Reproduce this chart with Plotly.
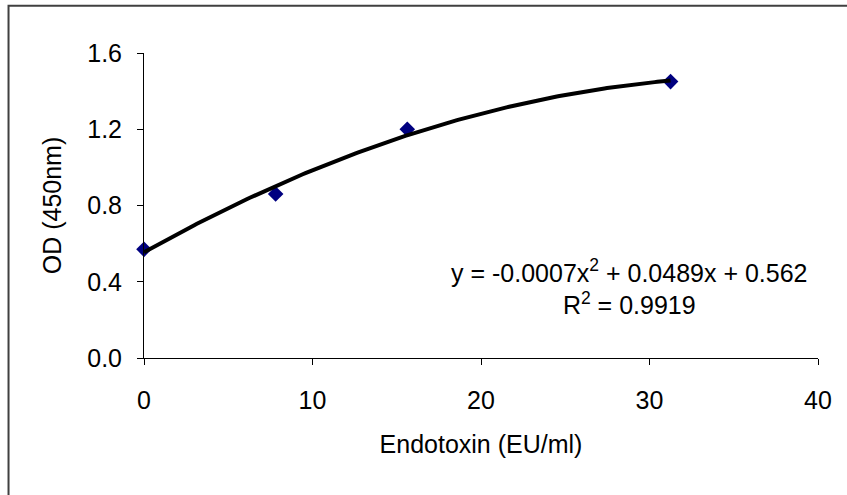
import numpy as np
import plotly.graph_objects as go

# Data
endotoxin = [0, 7.8125, 15.625, 31.25]
od450 = [0.57, 0.86, 1.20, 1.45]
x_ticks = [0, 10, 20, 30, 40]
y_ticks = [0.0, 0.4, 0.8, 1.2, 1.6]
equation_text = "y = -0.0007x<sup>2</sup> + 0.0489x + 0.562<br>R<sup>2</sup> = 0.9919"

# Polynomial (order 2) trendline fitted to the data, as in the source chart
coef = np.polyfit(endotoxin, od450, 2)
x_fit = np.linspace(min(endotoxin), max(endotoxin), 200)
y_fit = np.polyval(coef, x_fit)

FONT = "Liberation Sans, Arial, sans-serif"
FS = 25

fig = go.Figure()
fig.add_trace(go.Scatter(
    x=endotoxin, y=od450, mode="markers",
    marker=dict(symbol="diamond", size=12, color="#000080"),
    showlegend=False, cliponaxis=False,
))
fig.add_trace(go.Scatter(
    x=x_fit, y=y_fit, mode="lines",
    line=dict(color="black", width=4),
    showlegend=False, cliponaxis=False,
))

fig.add_annotation(
    x=(629 - 144.3) / 673.3 * 40, y=(357.7 - 287) / 304.4 * 1.6,
    xref="x", yref="y", text=equation_text,
    showarrow=False, align="center",
    font=dict(family=FONT, size=FS, color="black"),
)

fig.add_shape(
    type="rect", xref="paper", yref="paper",
    x0=-0.201, x1=1.3, y0=-0.7, y1=1.155,
    line=dict(color="#404040", width=2), fillcolor="rgba(0,0,0,0)",
    layer="below",
)

fig.update_layout(
    width=847, height=495,
    margin=dict(l=144, r=29, t=53, b=137),
    paper_bgcolor="white", plot_bgcolor="white",
    font=dict(family=FONT, size=FS, color="black"),
    xaxis=dict(
        range=[0, 40], tickvals=x_ticks, ticktext=[str(v) for v in x_ticks],
        showgrid=False, zeroline=False, showline=True, linecolor="black", linewidth=1,
        ticks="outside", ticklen=6, tickcolor="black", tickwidth=1,
        ticklabelstandoff=14, tickfont=dict(size=FS),
        title=dict(text="Endotoxin (EU/ml)", standoff=22, font=dict(size=FS)),
    ),
    yaxis=dict(
        range=[0, 1.6], tickvals=y_ticks, ticktext=[f"{v:.1f}" for v in y_ticks],
        showgrid=False, zeroline=False, showline=True, linecolor="black", linewidth=1,
        ticks="outside", ticklen=6, tickcolor="black", tickwidth=1,
        ticklabelstandoff=10, tickfont=dict(size=FS),
        title=dict(text="OD (450nm)", standoff=18, font=dict(size=FS)),
    ),
)

fig.write_html("out.html")
